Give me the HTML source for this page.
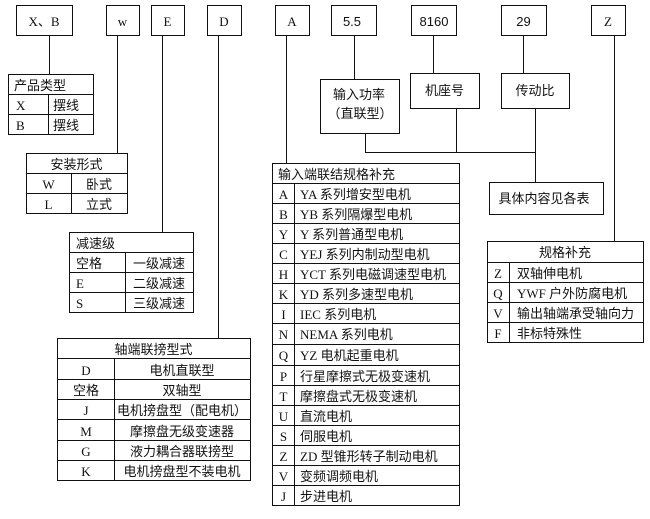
<!DOCTYPE html>
<html><head><meta charset="utf-8"><style>
html,body{margin:0;padding:0;background:#fff;}
svg{display:block;}
text{font-family:"Liberation Serif","Noto Sans CJK SC",sans-serif;font-size:13px;fill:#111;}
.s{font-family:"Liberation Sans","Noto Sans CJK SC",sans-serif;}
.c{text-anchor:middle;}
</style></head><body>
<svg width="650" height="519" viewBox="0 0 650 519" xmlns="http://www.w3.org/2000/svg" shape-rendering="crispEdges">
<g fill="none" stroke="#111" stroke-width="1">
<!-- top boxes -->
<rect x="16.5" y="5.5" width="56" height="30"/>
<rect x="106.5" y="5.5" width="33" height="30"/>
<rect x="151.5" y="5.5" width="33" height="30"/>
<rect x="207.5" y="5.5" width="34" height="30"/>
<rect x="275.5" y="5.5" width="34" height="30"/>
<rect x="331.5" y="5.5" width="45" height="30"/>
<rect x="411.5" y="5.5" width="45" height="30"/>
<rect x="501.5" y="5.5" width="45" height="30"/>
<rect x="591.5" y="5.5" width="34" height="30"/>
<!-- connectors -->
<line x1="49.5" y1="35" x2="49.5" y2="74"/>
<line x1="117.5" y1="35" x2="117.5" y2="153"/>
<line x1="162.5" y1="35" x2="162.5" y2="232"/>
<line x1="218.5" y1="35" x2="218.5" y2="338"/>
<line x1="286.5" y1="35" x2="286.5" y2="163"/>
<line x1="354.5" y1="35" x2="354.5" y2="79"/>
<line x1="433.5" y1="35" x2="433.5" y2="73"/>
<line x1="523.5" y1="35" x2="523.5" y2="73"/>
<line x1="614.5" y1="35" x2="614.5" y2="241"/>
<line x1="365.5" y1="133" x2="365.5" y2="152.5"/>
<line x1="456.5" y1="108" x2="456.5" y2="152.5"/>
<line x1="365" y1="152.5" x2="536" y2="152.5"/>
<line x1="535.5" y1="108" x2="535.5" y2="182"/>
<!-- mid boxes -->
<rect x="320.5" y="79.5" width="79" height="54"/>
<rect x="410.5" y="73.5" width="69" height="35"/>
<rect x="501.5" y="73.5" width="68" height="35"/>
<rect x="489.5" y="182.5" width="114" height="32"/>
<!-- T1 -->
<rect x="8.5" y="74.5" width="85" height="60"/>
<line x1="8" y1="94.5" x2="93" y2="94.5"/>
<line x1="8" y1="114.5" x2="93" y2="114.5"/>
<line x1="48.5" y1="94" x2="48.5" y2="134"/>
<!-- T2 -->
<rect x="26.5" y="153.5" width="101" height="60"/>
<line x1="26" y1="173.5" x2="127" y2="173.5"/>
<line x1="26" y1="193.5" x2="127" y2="193.5"/>
<line x1="71.5" y1="173" x2="71.5" y2="213"/>
<!-- T3 -->
<rect x="69.5" y="232.5" width="124" height="80"/>
<line x1="69" y1="252.5" x2="193" y2="252.5"/>
<line x1="69" y1="272.5" x2="193" y2="272.5"/>
<line x1="69" y1="292.5" x2="193" y2="292.5"/>
<line x1="125.5" y1="252" x2="125.5" y2="312"/>
<!-- T4 -->
<rect x="57.5" y="338.5" width="193" height="142"/>
<line x1="57" y1="358.5" x2="250" y2="358.5"/>
<line x1="57" y1="379.5" x2="250" y2="379.5"/>
<line x1="57" y1="399.5" x2="250" y2="399.5"/>
<line x1="57" y1="419.5" x2="250" y2="419.5"/>
<line x1="57" y1="440.5" x2="250" y2="440.5"/>
<line x1="57" y1="460.5" x2="250" y2="460.5"/>
<line x1="114.5" y1="358" x2="114.5" y2="480"/>
<!-- T5 -->
<rect x="272.5" y="163.5" width="187" height="342"/>
<line x1="272" y1="183.5" x2="459" y2="183.5"/>
<line x1="272" y1="203.5" x2="459" y2="203.5"/>
<line x1="272" y1="223.5" x2="459" y2="223.5"/>
<line x1="272" y1="243.5" x2="459" y2="243.5"/>
<line x1="272" y1="263.5" x2="459" y2="263.5"/>
<line x1="272" y1="283.5" x2="459" y2="283.5"/>
<line x1="272" y1="303.5" x2="459" y2="303.5"/>
<line x1="272" y1="323.5" x2="459" y2="323.5"/>
<line x1="272" y1="344.5" x2="459" y2="344.5"/>
<line x1="272" y1="365.5" x2="459" y2="365.5"/>
<line x1="272" y1="385.5" x2="459" y2="385.5"/>
<line x1="272" y1="405.5" x2="459" y2="405.5"/>
<line x1="272" y1="425.5" x2="459" y2="425.5"/>
<line x1="272" y1="445.5" x2="459" y2="445.5"/>
<line x1="272" y1="465.5" x2="459" y2="465.5"/>
<line x1="272" y1="485.5" x2="459" y2="485.5"/>
<line x1="294.5" y1="183" x2="294.5" y2="505"/>
<!-- T6 -->
<rect x="487.5" y="241.5" width="156" height="101"/>
<line x1="487" y1="262.5" x2="643" y2="262.5"/>
<line x1="487" y1="282.5" x2="643" y2="282.5"/>
<line x1="487" y1="302.5" x2="643" y2="302.5"/>
<line x1="487" y1="322.5" x2="643" y2="322.5"/>
<line x1="509.5" y1="262" x2="509.5" y2="342"/>
</g>

<!-- top box text -->
<text class="c" x="44" y="26">X、B</text>
<text class="c" x="122.5" y="26">w</text>
<text class="c" x="167.5" y="26">E</text>
<text class="c" x="224" y="26">D</text>
<text class="c" x="292" y="26">A</text>
<text class="c s" x="352" y="26">5.5</text>
<text class="c s" x="434" y="26">8160</text>
<text class="c s" x="523.5" y="26">29</text>
<text class="c" x="608" y="26">Z</text>

<!-- mid boxes text -->
<text class="c" x="359" y="99">输入功率</text>
<text class="c" x="360" y="118">（直联型）</text>
<text class="c" x="444.5" y="95">机座号</text>
<text class="c" x="535" y="95">传动比</text>
<text class="c" x="544" y="203">具体内容见各表</text>

<!-- T1 -->
<text x="14" y="90">产品类型</text>
<text x="16" y="110">X</text><text x="53" y="110">摆线</text>
<text x="16" y="130">B</text><text x="53" y="130">摆线</text>

<!-- T2 -->
<text class="c" x="76.5" y="169">安装形式</text>
<text class="c" x="48.5" y="189">W</text><text class="c" x="99" y="189">卧式</text>
<text class="c" x="48.5" y="209">L</text><text class="c" x="99" y="209">立式</text>

<!-- T3 -->
<text x="76" y="248">减速级</text>
<text x="76" y="268">空格</text><text class="c" x="159" y="268">一级减速</text>
<text x="76" y="288">E</text><text class="c" x="159" y="288">二级减速</text>
<text x="76" y="308">S</text><text class="c" x="159" y="308">三级减速</text>

<!-- T4 -->
<text class="c" x="153.5" y="354">轴端联搒型式</text>
<text class="c" x="86" y="375">D</text><text class="c" x="182" y="375">电机直联型</text>
<text class="c" x="86" y="395">空格</text><text class="c" x="182" y="395">双轴型</text>
<text class="c" x="86" y="415">J</text><text class="c" x="182" y="415">电机搒盘型（配电机）</text>
<text class="c" x="86" y="436">M</text><text class="c" x="182" y="436">摩擦盘无级变速器</text>
<text class="c" x="86" y="456">G</text><text class="c" x="182" y="456">液力耦合器联搒型</text>
<text class="c" x="86" y="476">K</text><text class="c" x="182" y="476">电机搒盘型不装电机</text>

<!-- T5 -->
<text x="278" y="179">输入端联结规格补充</text>
<text class="c" x="283.5" y="199">A</text><text x="300" y="199">YA 系列增安型电机</text>
<text class="c" x="283.5" y="219">B</text><text x="300" y="219">YB 系列隔爆型电机</text>
<text class="c" x="283.5" y="239">Y</text><text x="300" y="239">Y 系列普通型电机</text>
<text class="c" x="283.5" y="259">C</text><text x="300" y="259">YEJ 系列内制动型电机</text>
<text class="c" x="283.5" y="279">H</text><text x="300" y="279">YCT 系列电磁调速型电机</text>
<text class="c" x="283.5" y="299">K</text><text x="300" y="299">YD 系列多速型电机</text>
<text class="c" x="283.5" y="319">I</text><text x="300" y="319">IEC 系列电机</text>
<text class="c" x="283.5" y="339">N</text><text x="300" y="339">NEMA 系列电机</text>
<text class="c" x="283.5" y="360">Q</text><text x="300" y="360">YZ 电机起重电机</text>
<text class="c" x="283.5" y="381">P</text><text x="300" y="381">行星摩擦式无极变速机</text>
<text class="c" x="283.5" y="401">T</text><text x="300" y="401">摩擦盘式无极变速机</text>
<text class="c" x="283.5" y="421">U</text><text x="300" y="421">直流电机</text>
<text class="c" x="283.5" y="441">S</text><text x="300" y="441">伺服电机</text>
<text class="c" x="283.5" y="461">Z</text><text x="300" y="461">ZD 型锥形转子制动电机</text>
<text class="c" x="283.5" y="481">V</text><text x="300" y="481">变频调频电机</text>
<text class="c" x="283.5" y="501">J</text><text x="300" y="501">步进电机</text>

<!-- T6 -->
<text class="c" x="565" y="257">规格补充</text>
<text class="c" x="498" y="278">Z</text><text x="517" y="278">双轴伸电机</text>
<text class="c" x="498" y="298">Q</text><text x="517" y="298">YWF 户外防腐电机</text>
<text class="c" x="498" y="318">V</text><text x="517" y="318">输出轴端承受轴向力</text>
<text class="c" x="498" y="338">F</text><text x="517" y="338">非标特殊性</text>
</svg>
</body></html>
